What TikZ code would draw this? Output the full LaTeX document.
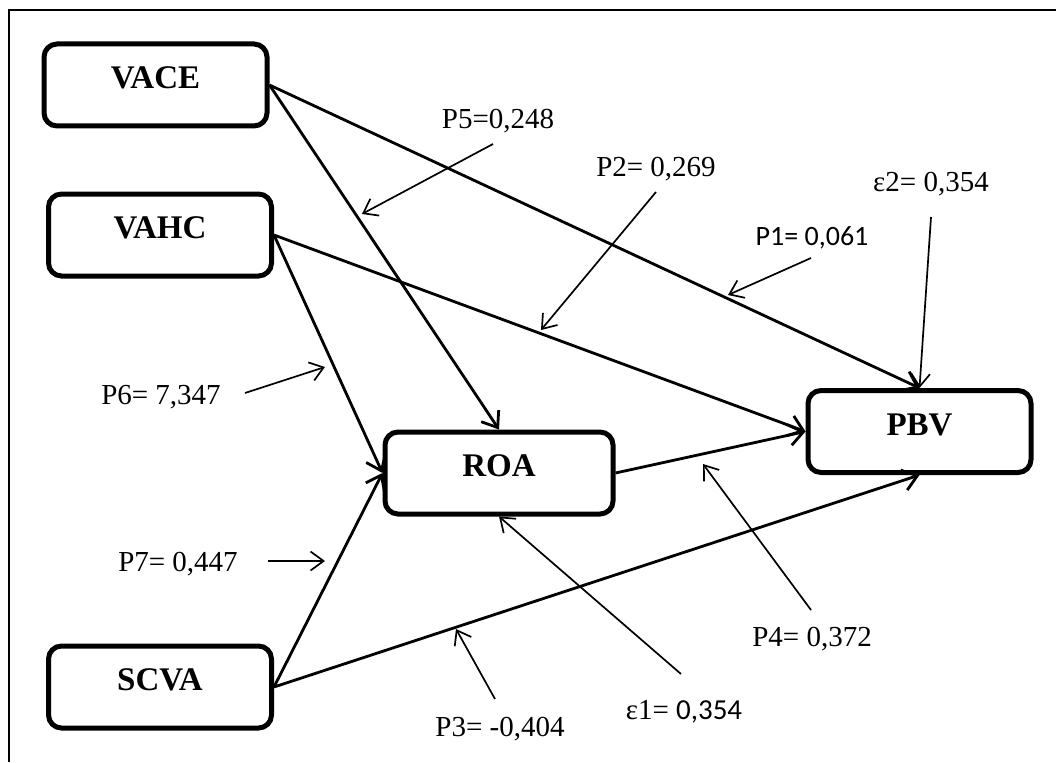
\documentclass[tikz,border=0pt]{standalone}
\usepackage{fontspec}
\setmainfont{Liberation Serif}
\newfontfamily\calfont{Carlito}
\usetikzlibrary{arrows.meta}
\begin{document}
\begin{tikzpicture}[x=1pt,y=-1pt,
  box/.style={draw, line width=5pt, rounded corners=13pt, minimum width=223pt,
    minimum height=82pt, inner sep=0pt, text height=23pt, text depth=16pt,
    font=\fontsize{33}{33}\selectfont\bfseries},
  conn/.style={line width=2.8pt, -{Straight Barb[length=14pt,width=21pt]}},
  lab/.style={line width=1.7pt, -{Straight Barb[length=13pt,width=19pt]}},
  txt/.style={inner sep=0pt, font=\fontsize{29}{29}\selectfont},
  frame/.style={line width=1.5pt}]
\useasboundingbox (0,0) rectangle (1056,762);
% frame
\coordinate (fa) at (9,762);
\coordinate (fb) at (9,10);
\coordinate (fc) at (1056,10);
\draw[frame] (fa) -- (fb) -- (fc);
% boxes
\node[box] (vace) at (155.5,85) {VACE};
\node[box] (vahc) at (160,235) {VAHC};
\node[box] (scva) at (160,687) {SCVA};
\node[box, minimum width=228pt] (roa) at (499,473) {ROA};
\node[box] (pbv) at (919.5,431.5) {PBV};
% main connectors
\draw[conn] (vace.east) -- (pbv.north);
\draw[conn] (vace.east) -- (roa.north);
\draw[conn] (vahc.east) -- (pbv.west);
\draw[conn] (vahc.east) -- (roa.west);
\draw[conn] (scva.east) -- (roa.west);
\draw[conn] (scva.east) -- (pbv.south);
\draw[conn] (roa.east) -- (pbv.west);
% labels
\node[txt] (p5) at (498,121) {P5=0,248};
\node[txt] (p2) at (656,169) {P2= 0,269};
\node[txt] (e2) at (931,184) {ε2= 0,354};
\node[txt, font=\fontsize{28}{28}\selectfont\calfont] (p1) at (812,238) {P1= 0,061};
\node[txt] (p6) at (161,397) {P6= 7,347};
\node[txt] (p7) at (178,564) {P7= 0,447};
\node[txt] (p3) at (500,729) {P3= -0,404};
\node[txt] (e1) at (684,712) {ε1= {\calfont 0,354}};
\node[txt] (p4) at (812,639) {P4= 0,372};
% label arrows
\coordinate (p5t) at (493,144); \coordinate (p5h) at (362,214);
\coordinate (p2t) at (656,192); \coordinate (p2h) at (541,330);
\coordinate (p1t) at (811,258); \coordinate (p1h) at (728,295);
\coordinate (e2t) at (931,217);
\coordinate (p6t) at (245,393); \coordinate (p6h) at (325,367);
\coordinate (p7t) at (268,561); \coordinate (p7h) at (325,561);
\coordinate (p3t) at (495,699); \coordinate (p3h) at (456,629);
\coordinate (e1t) at (681,674);
\coordinate (p4t) at (811,610); \coordinate (p4h) at (703,464);
\draw[lab] (p5t) -- (p5h);
\draw[lab] (p2t) -- (p2h);
\draw[lab] (p1t) -- (p1h);
\draw[lab] (e2t) -- (pbv.north);
\draw[lab] (p6t) -- (p6h);
\draw[lab] (p7t) -- (p7h);
\draw[lab] (p3t) -- (p3h);
\draw[lab] (e1t) -- (roa.south);
\draw[lab] (p4t) -- (p4h);
\end{tikzpicture}
\end{document}
